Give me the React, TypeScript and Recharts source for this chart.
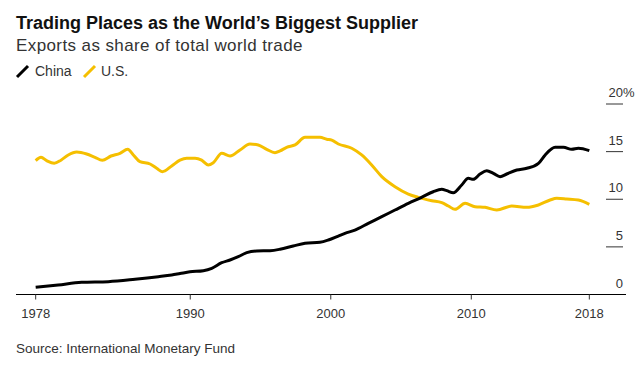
import React from "react";
import { LineChart, Line, XAxis, YAxis } from "recharts";

const chinaYears = [1979.0, 1980.6, 1982.27, 1984.17, 1986.07, 1987.73, 1988.68, 1989.27, 1989.98, 1990.93, 1991.53, 1992.24, 1992.83, 1993.42, 1994.02, 1994.73, 1995.68, 1996.39, 1997.33, 1998.17, 1999.23, 1999.83, 2000.54, 2001.01, 2001.72, 2002.67, 2003.63, 2004.57, 2005.52, 2006.46, 2007.29, 2007.9, 2008.25, 2008.72, 2009.32, 2009.79, 2010.14, 2010.62, 2011.1, 2011.57, 2012.05, 2012.52, 2013.24, 2013.95, 2014.78, 2015.26, 2015.97, 2016.56, 2017.15, 2017.62, 2018.4];
const chinaShare = [0.75, 1.0, 1.28, 1.35, 1.6, 1.87, 2.05, 2.2, 2.38, 2.5, 2.75, 3.34, 3.62, 3.97, 4.39, 4.57, 4.6, 4.75, 5.09, 5.37, 5.48, 5.72, 6.14, 6.42, 6.77, 7.47, 8.17, 8.87, 9.57, 10.2, 10.79, 11.04, 10.9, 10.69, 11.5, 12.2, 12.09, 12.65, 13.0, 12.72, 12.37, 12.65, 13.07, 13.25, 13.77, 14.65, 15.45, 15.45, 15.24, 15.35, 15.1];

const usYears = [1979.0, 1979.38, 1979.78, 1980.32, 1980.8, 1981.32, 1981.92, 1982.63, 1983.22, 1983.74, 1984.36, 1985.0, 1985.55, 1985.95, 1986.42, 1987.14, 1987.61, 1988.01, 1988.68, 1989.27, 1989.75, 1990.34, 1990.81, 1991.28, 1991.64, 1992.24, 1992.83, 1993.54, 1994.25, 1994.84, 1995.44, 1996.03, 1996.39, 1996.86, 1997.46, 1998.17, 1999.23, 1999.71, 2000.07, 2000.54, 2001.49, 2002.2, 2002.91, 2003.63, 2004.57, 2005.52, 2006.23, 2007.19, 2007.9, 2008.37, 2008.84, 2009.56, 2010.27, 2010.98, 2011.81, 2012.88, 2013.95, 2014.78, 2015.61, 2016.08, 2016.79, 2017.62, 2018.4];
const usShare = [14.05, 14.4, 14.05, 13.77, 14.1, 14.65, 14.96, 14.75, 14.4, 14.1, 14.54, 14.82, 15.24, 14.65, 13.94, 13.7, 13.25, 12.9, 13.5, 14.1, 14.3, 14.3, 14.1, 13.6, 13.84, 14.82, 14.54, 15.17, 15.8, 15.7, 15.24, 14.89, 15.07, 15.45, 15.7, 16.5, 16.5, 16.3, 16.2, 15.8, 15.35, 14.65, 13.6, 12.37, 11.32, 10.55, 10.2, 9.85, 9.64, 9.29, 8.94, 9.57, 9.22, 9.15, 8.87, 9.29, 9.15, 9.4, 9.92, 10.1, 10.03, 9.92, 9.47];

const xTickYears = [1979, 1990, 2000, 2010, 2018.4];
const xTickLabels = ["1978", "1990", "2000", "2010", "2018"];
const yTicks = [0, 5, 10, 15, 20];

const chinaData = chinaYears.map((year, i) => ({ year, value: chinaShare[i] }));
const usData = usYears.map((year, i) => ({ year, value: usShare[i] }));

const FONT = "'Liberation Sans', Arial, Helvetica, sans-serif";
const YELLOW = "#f5bf00";

const YTick = (props: any) => {
  const { x, y, payload } = props;
  const v = payload.value;
  const top = v === yTicks[yTicks.length - 1];
  return (
    <g>
      {v !== 0 && <line x1={x - 20} x2={x - 3} y1={y} y2={y} stroke="#333" strokeWidth={1} />}
      <text x={x - 3} y={y - 7} textAnchor="end" fontSize={13} fill="#333" fontFamily={FONT}>
        {v}
      </text>
      {top && (
        <text x={x - 3} y={y - 7} textAnchor="start" fontSize={13} fill="#333" fontFamily={FONT}>
          %
        </text>
      )}
    </g>
  );
};

export default function App() {
  const labelFor = (v: number) => {
    const i = xTickYears.indexOf(v);
    return i >= 0 ? xTickLabels[i] : String(v);
  };
  return (
    <div style={{ position: "absolute", left: 0, top: 0, width: 644, height: 367, background: "#fff" }}>
      <LineChart
        width={644}
        height={367}
        margin={{ top: 104, right: 0, bottom: 42.5, left: 16 }}
      >
        <XAxis
          dataKey="year"
          type="number"
          domain={[1977.6, 2021.01]}
          allowDataOverflow
          ticks={xTickYears}
          tickFormatter={labelFor}
          height={30}
          axisLine={{ stroke: "#000", strokeWidth: 1 }}
          tickLine={{ stroke: "#333", strokeWidth: 1 }}
          tickSize={5}
          tickMargin={9}
          tick={{ fontSize: 13, fill: "#333", fontFamily: FONT }}
        />
        <YAxis
          orientation="right"
          type="number"
          domain={[0, 20]}
          ticks={yTicks}
          width={18}
          axisLine={false}
          tickLine={false}
          tickSize={0}
          tickMargin={0}
          tick={<YTick />}
        />
        <Line
          data={usData}
          dataKey="value"
          type="monotone"
          stroke={YELLOW}
          strokeWidth={3}
          dot={false}
          isAnimationActive={false}
        />
        <Line
          data={chinaData}
          dataKey="value"
          type="monotone"
          stroke="#000"
          strokeWidth={3}
          dot={false}
          isAnimationActive={false}
        />
      </LineChart>
      <svg
        width={644}
        height={367}
        style={{ position: "absolute", left: 0, top: 0, pointerEvents: "none" }}
      >
        <text x={16} y={29} fontSize={18} fontWeight="bold" fill="#111" fontFamily={FONT}>
          Trading Places as the World’s Biggest Supplier
        </text>
        <text x={16} y={51} fontSize={17} fill="#333" fontFamily={FONT} letterSpacing={0.4}>
          Exports as share of total world trade
        </text>
        <line x1={17} y1={77} x2={28} y2={66} stroke="#000" strokeWidth={3} />
        <text x={35} y={76} fontSize={14} fill="#333" fontFamily={FONT}>
          China
        </text>
        <line x1={84} y1={77} x2={95} y2={66} stroke={YELLOW} strokeWidth={3} />
        <text x={101} y={76} fontSize={14} fill="#333" fontFamily={FONT}>
          U.S.
        </text>
        <text x={16} y={353} fontSize={13.5} fill="#333" fontFamily={FONT}>
          Source: International Monetary Fund
        </text>
      </svg>
    </div>
  );
}
